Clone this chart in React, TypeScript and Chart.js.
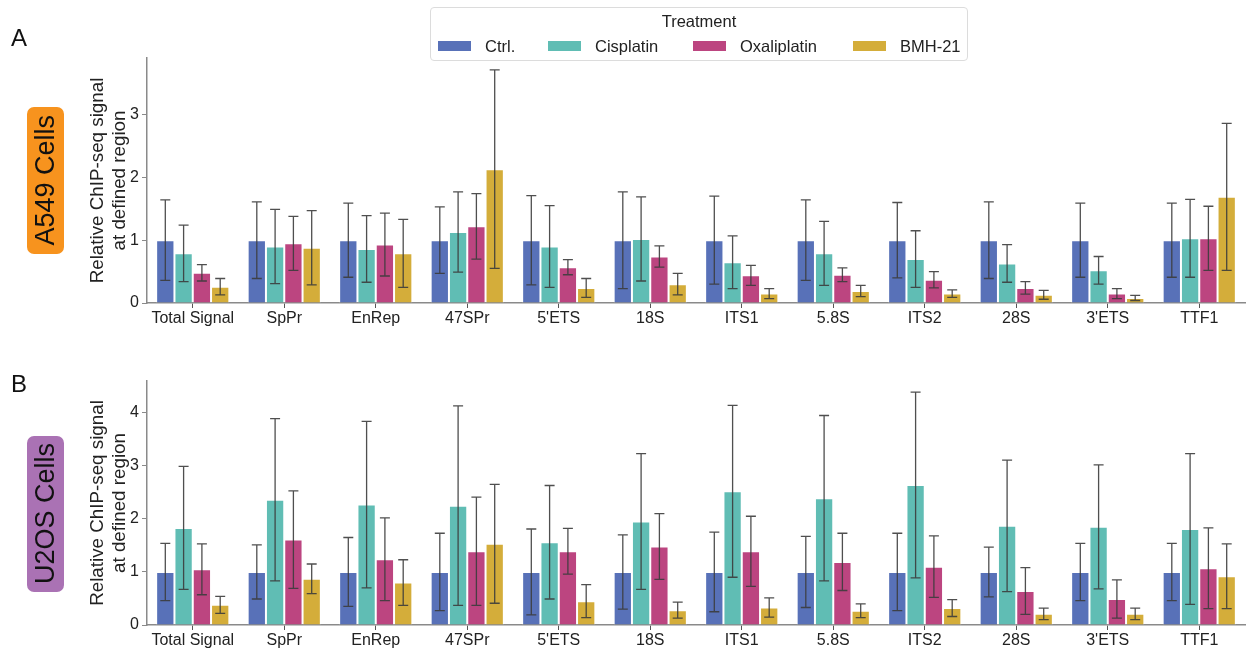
import React, { useEffect, useRef } from 'react';
import { Chart, registerables } from 'chart.js';

Chart.register(...registerables);

const FONT = '"Liberation Sans", Arial, Helvetica, sans-serif';

const categories = ['Total Signal', 'SpPr', 'EnRep', '47SPr', "5'ETS", '18S', 'ITS1', '5.8S', 'ITS2', '28S', "3'ETS", 'TTF1'];
const treatments = ['Ctrl.', 'Cisplatin', 'Oxaliplatin', 'BMH-21'];
const treatmentColors = ['#5871B8', '#60BDB4', '#BC4580', '#D4AD3A'];

// Panel A: A549 cells
const a549Ctrl = [1, 1, 1, 1, 1, 1, 1, 1, 1, 1, 1, 1];
const a549CtrlErr = [0.64, 0.61, 0.59, 0.53, 0.71, 0.77, 0.70, 0.64, 0.60, 0.61, 0.59, 0.59];
const a549Cis = [0.79, 0.90, 0.86, 1.13, 0.90, 1.02, 0.65, 0.79, 0.70, 0.63, 0.52, 1.03];
const a549CisErr = [0.45, 0.59, 0.53, 0.64, 0.65, 0.67, 0.42, 0.51, 0.45, 0.30, 0.22, 0.62];
const a549Oxa = [0.48, 0.95, 0.93, 1.22, 0.57, 0.74, 0.44, 0.45, 0.37, 0.24, 0.15, 1.03];
const a549OxaErr = [0.13, 0.43, 0.50, 0.52, 0.12, 0.17, 0.16, 0.11, 0.13, 0.10, 0.08, 0.51];
const a549Bmh = [0.26, 0.88, 0.79, 2.13, 0.24, 0.30, 0.15, 0.19, 0.15, 0.13, 0.08, 1.69];
const a549BmhErr = [0.13, 0.59, 0.54, 1.58, 0.15, 0.17, 0.08, 0.09, 0.06, 0.07, 0.04, 1.17];
const a549Ticks = [0, 1, 2, 3];
const a549Max = 3.9;

// Panel B: U2OS cells
const u2osCtrl = [1, 1, 1, 1, 1, 1, 1, 1, 1, 1, 1, 1];
const u2osCtrlErr = [0.54, 0.51, 0.65, 0.73, 0.81, 0.70, 0.75, 0.67, 0.73, 0.47, 0.54, 0.54];
const u2osCis = [1.83, 2.36, 2.27, 2.25, 1.56, 1.95, 2.52, 2.39, 2.64, 1.87, 1.85, 1.81];
const u2osCisErr = [1.16, 1.53, 1.57, 1.88, 1.07, 1.28, 1.62, 1.56, 1.75, 1.24, 1.17, 1.42];
const u2osOxa = [1.05, 1.61, 1.24, 1.39, 1.39, 1.48, 1.39, 1.19, 1.10, 0.64, 0.49, 1.07];
const u2osOxaErr = [0.48, 0.92, 0.78, 1.02, 0.43, 0.62, 0.66, 0.54, 0.58, 0.44, 0.36, 0.76];
const u2osBmh = [0.38, 0.87, 0.80, 1.53, 0.45, 0.28, 0.33, 0.27, 0.32, 0.21, 0.21, 0.92];
const u2osBmhErr = [0.16, 0.28, 0.43, 1.12, 0.31, 0.15, 0.18, 0.13, 0.16, 0.11, 0.11, 0.61];
const u2osTicks = [0, 1, 2, 3, 4];
const u2osMax = 4.6;

const yTitle = ['Relative ChIP-seq signal', 'at defined region'];

const errorBarPlugin = {
  id: 'errorBars',
  afterDatasetsDraw(chart: any) {
    const ctx = chart.ctx;
    const yScale = chart.scales.y;
    ctx.save();
    ctx.strokeStyle = 'rgba(60,60,60,0.9)';
    ctx.lineWidth = 1.3;
    chart.data.datasets.forEach((ds: any, di: number) => {
      const meta = chart.getDatasetMeta(di);
      meta.data.forEach((bar: any, i: number) => {
        const v = ds.data[i];
        const e = ds.errors[i];
        const x = bar.x;
        const yTop = yScale.getPixelForValue(v + e);
        const yBot = yScale.getPixelForValue(v - e);
        const cap = 5;
        ctx.beginPath();
        ctx.moveTo(x, yTop);
        ctx.lineTo(x, yBot);
        ctx.moveTo(x - cap, yTop);
        ctx.lineTo(x + cap, yTop);
        ctx.moveTo(x - cap, yBot);
        ctx.lineTo(x + cap, yBot);
        ctx.stroke();
      });
    });
    ctx.restore();
  },
};

type PanelProps = {
  top: number;
  height: number;
  padTop: number;
  xHeight: number;
  values: number[][];
  errors: number[][];
  ticks: number[];
  yMax: number;
};

function Panel({ top, height, padTop, xHeight, values, errors, ticks, yMax }: PanelProps) {
  const ref = useRef<HTMLCanvasElement | null>(null);
  useEffect(() => {
    if (!ref.current) return;
    const chart = new Chart(ref.current, {
      type: 'bar',
      data: {
        labels: categories,
        datasets: treatments.map((t, k) => ({
          label: t,
          data: values[k],
          errors: errors[k],
          backgroundColor: treatmentColors[k],
          borderColor: 'rgba(255,255,255,0.65)',
          borderWidth: 1,
          categoryPercentage: 0.8,
          barPercentage: 1.0,
        })) as any,
      },
      options: {
        animation: false,
        responsive: false,
        devicePixelRatio: 1,
        layout: { padding: { left: 80, right: 12, top: padTop, bottom: 0 } },
        plugins: { legend: { display: false }, tooltip: { enabled: false } },
        scales: {
          x: {
            grid: { display: true, drawOnChartArea: false, drawTicks: true, tickLength: 5, tickColor: '#555', offset: false },
            border: { display: true, color: '#8a8a8a', width: 1.5 },
            ticks: { color: '#222', font: { family: FONT, size: 16 }, padding: 1, maxRotation: 0, autoSkip: false },
            afterFit: (s: any) => { s.height = xHeight; },
          },
          y: {
            min: 0,
            max: yMax,
            grid: { display: true, drawOnChartArea: false, drawTicks: true, tickLength: 5, tickColor: '#8a8a8a' },
            border: { display: true, color: '#8a8a8a', width: 1.5 },
            ticks: { color: '#222', font: { family: FONT, size: 16 }, padding: 3 },
            afterBuildTicks: (s: any) => { s.ticks = ticks.map((v) => ({ value: v })); },
            afterFit: (s: any) => { s.width = 67; },
            title: {
              display: true,
              text: yTitle,
              color: '#222',
              font: { family: FONT, size: 18.8, lineHeight: 1.17 },
              padding: { top: 7, bottom: 0 },
            },
          },
        },
      },
      plugins: [errorBarPlugin],
    } as any);
    return () => chart.destroy();
  }, []);
  return (
    <canvas
      ref={ref}
      width={1257}
      height={height}
      style={{ position: 'absolute', left: 0, top, width: 1257, height }}
    />
  );
}

function CellLabel({ text, top, height, color }: { text: string; top: number; height: number; color: string }) {
  return (
    <div
      style={{
        position: 'absolute',
        left: 27,
        top,
        width: 37,
        height,
        background: color,
        borderRadius: 7,
        display: 'flex',
        alignItems: 'center',
        justifyContent: 'center',
      }}
    >
      <span
        style={{
          writingMode: 'vertical-rl',
          transform: 'rotate(180deg)',
          fontFamily: FONT,
          fontSize: 27,
          color: '#111',
          whiteSpace: 'nowrap',
          lineHeight: 1,
        }}
      >
        {text}
      </span>
    </div>
  );
}

function Legend() {
  const itemLeft = [7, 117, 262, 422];
  return (
    <div
      style={{
        position: 'absolute',
        left: 430,
        top: 7,
        width: 538,
        height: 54,
        border: '1px solid #dcdcdc',
        borderRadius: 4,
        background: 'rgba(255,255,255,0.9)',
        fontFamily: FONT,
        color: '#222',
        boxSizing: 'border-box',
      }}
    >
      <div style={{ position: 'absolute', left: 0, right: 0, top: 4, textAlign: 'center', fontSize: 16.5 }}>Treatment</div>
      {treatments.map((t, k) => (
        <div key={t} style={{ position: 'absolute', left: itemLeft[k], top: 28, height: 20, display: 'flex', alignItems: 'center' }}>
          <div style={{ width: 33, height: 10, background: treatmentColors[k], marginRight: 14 }} />
          <span style={{ fontSize: 16.5 }}>{t}</span>
        </div>
      ))}
    </div>
  );
}

export default function App() {
  return (
    <div style={{ position: 'relative', width: 1257, height: 649, background: '#fff', overflow: 'hidden' }}>
      <style>{'body{margin:0;}'}</style>
      <Panel
        top={0}
        height={330}
        padTop={58}
        xHeight={27}
        values={[a549Ctrl, a549Cis, a549Oxa, a549Bmh]}
        errors={[a549CtrlErr, a549CisErr, a549OxaErr, a549BmhErr]}
        ticks={a549Ticks}
        yMax={a549Max}
      />
      <Panel
        top={330}
        height={319}
        padTop={51}
        xHeight={24}
        values={[u2osCtrl, u2osCis, u2osOxa, u2osBmh]}
        errors={[u2osCtrlErr, u2osCisErr, u2osOxaErr, u2osBmhErr]}
        ticks={u2osTicks}
        yMax={u2osMax}
      />
      <div style={{ position: 'absolute', left: 11, top: 26, fontFamily: FONT, fontSize: 24, color: '#111', lineHeight: 1 }}>A</div>
      <div style={{ position: 'absolute', left: 11, top: 372, fontFamily: FONT, fontSize: 24, color: '#111', lineHeight: 1 }}>B</div>
      <CellLabel text="A549 Cells" top={107} height={147} color="#F7931E" />
      <CellLabel text="U2OS Cells" top={436} height={156} color="#AA72B4" />
      <Legend />
    </div>
  );
}
